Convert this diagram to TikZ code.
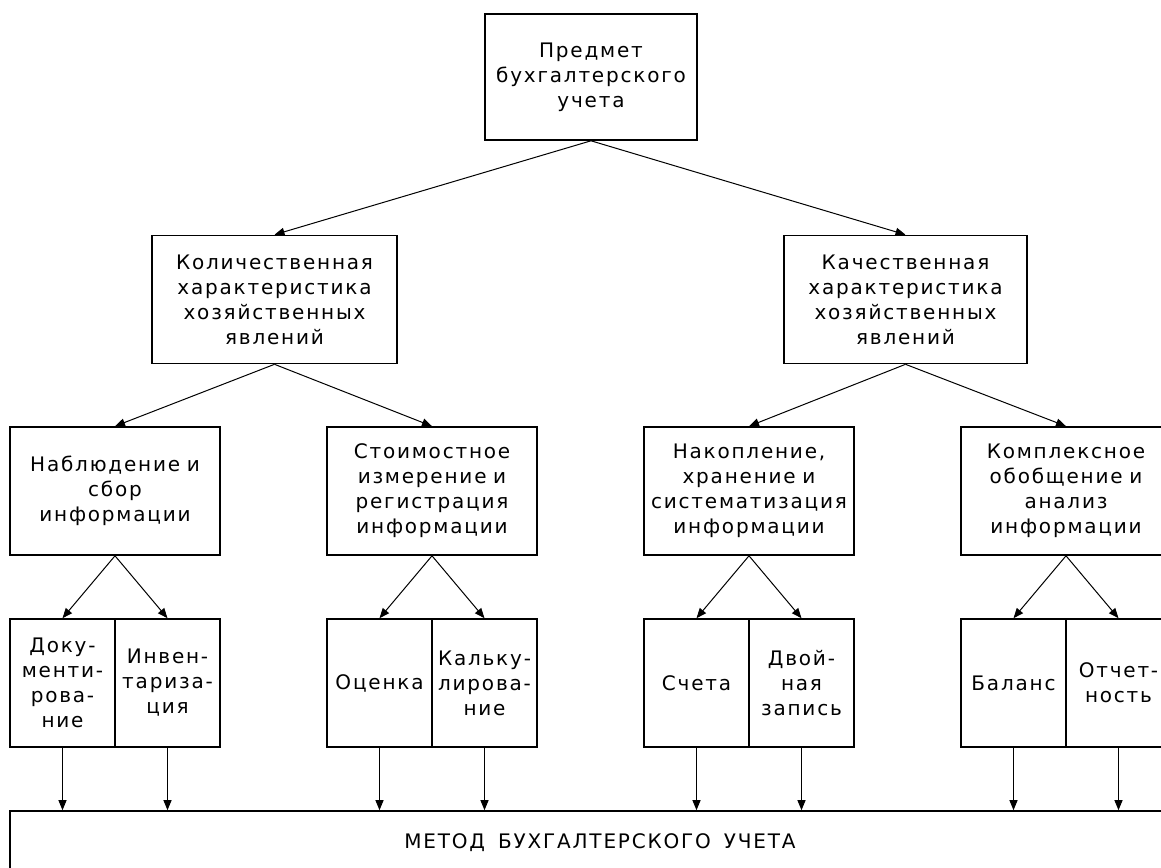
\documentclass[tikz,border=0pt]{standalone}
\usepackage{fontspec}
\setmainfont{DejaVu Sans}[LetterSpace=9,WordSpace=1.6]
\usetikzlibrary{arrows.meta}
\begin{document}
\begin{tikzpicture}[x=1pt,y=-1pt,
  box/.style={draw, line width=1.6pt, inner sep=0pt, align=center,
    font=\fontsize{20}{25}\selectfont},
  big/.style={box, minimum width=#1pt, minimum height=128pt, text width=#1pt},
  cell/.style={box, minimum width=105pt, minimum height=128pt, text width=105pt},
  con/.style={line width=1pt, -{Triangle[length=10pt,width=8pt]}}]
\useasboundingbox (0,0) rectangle (1161,867);
\clip (0,0) rectangle (1161,867);
\fill[white] (0,0) rectangle (1161,867);
% level 1
\node[box, minimum width=212pt, minimum height=126pt, text width=212pt] (top) at (591,77) {Предмет\\бухгалтерского\\учета};
% level 2
\node[big=245] (qa) at (274.5,299.5) {Количественная\\характеристика\\хозяйственных\\явлений};
\node[big=243] (qb) at (905.5,299.5) {Качественная\\характеристика\\хозяйственных\\явлений};
% level 3
\node[big=210] (a) at (115,491) {Наблюдение и\\сбор\\информации};
\node[big=210] (b) at (432,491) {Стоимостное\\измерение и\\регистрация\\информации};
\node[big=210] (c) at (749,491) {Накопление,\\хранение и\\\mbox{систематизация}\\информации};
\node[big=210] (d) at (1066,491) {Комплексное\\обобщение и\\анализ\\информации};
% level 4
\node[cell] (a1) at (62.5,683) {Доку-\\менти-\\рова-\\ние};
\node[cell] (a2) at (167.5,683) {Инвен-\\тариза-\\ция};
\node[cell] (b1) at (379.5,683) {Оценка};
\node[cell] (b2) at (484.5,683) {Кальку-\\лирова-\\ние};
\node[cell] (c1) at (696.5,683) {Счета};
\node[cell] (c2) at (801.5,683) {Двой-\\ная\\запись};
\node[cell] (d1) at (1013.5,683) {Баланс};
\node[cell] (d2) at (1118.5,683) {Отчет-\\ность};
% bottom
\node[box, minimum width=1180pt, minimum height=64pt] (m) at (600,843) {МЕТОД БУХГАЛТЕРСКОГО УЧЕТА};
% connectors
\draw[con] (top.south) -- (qa.north);
\draw[con] (top.south) -- (qb.north);
\draw[con] (qa.south) -- (a.north);
\draw[con] (qa.south) -- (b.north);
\draw[con] (qb.south) -- (c.north);
\draw[con] (qb.south) -- (d.north);
\draw[con] (a.south) -- (a1.north);
\draw[con] (a.south) -- (a2.north);
\draw[con] (b.south) -- (b1.north);
\draw[con] (b.south) -- (b2.north);
\draw[con] (c.south) -- (c1.north);
\draw[con] (c.south) -- (c2.north);
\draw[con] (d.south) -- (d1.north);
\draw[con] (d.south) -- (d2.north);
\foreach \n in {a1,a2,b1,b2,c1,c2,d1,d2}
  \draw[con] (\n.south) -- (\n.south |- m.north);
\end{tikzpicture}
\end{document}
